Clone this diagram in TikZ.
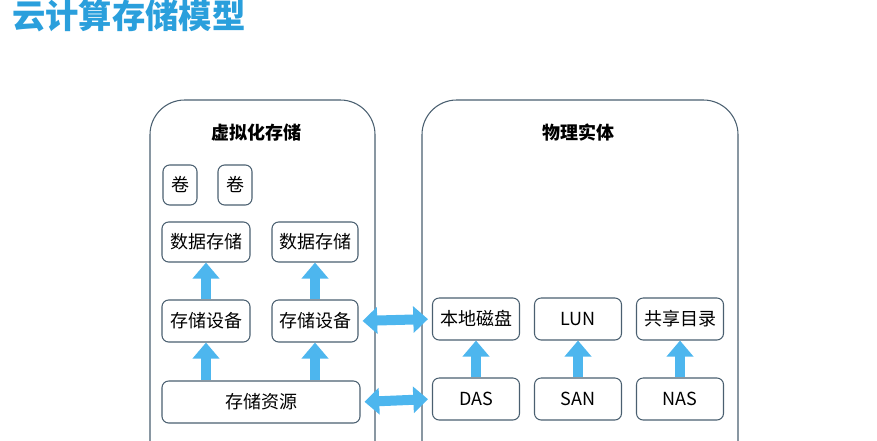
\documentclass[tikz,border=0pt]{standalone}
\usepackage{fontspec}
\setmainfont{Noto Sans CJK SC}
\usetikzlibrary{arrows.meta}
\definecolor{arrowblue}{HTML}{4DB6EE}
\definecolor{titleblue}{HTML}{2A9FDC}
\definecolor{edgegray}{HTML}{4A5F70}

\begin{document}
\begin{tikzpicture}[x=0.75pt, y=-0.75pt,
    box/.style={draw=edgegray, rounded corners=5pt, line width=0.8pt, font=\fontsize{13.5}{15}\selectfont},
    group/.style={draw=edgegray, rounded corners=26pt, line width=0.8pt},
    uparrow/.style={arrowblue, line width=7.5pt, -{Triangle[width=19.5pt, length=12pt]}},
    twoway/.style={arrowblue, line width=7.5pt, {Triangle[width=19.5pt, length=11pt]}-{Triangle[width=19.5pt, length=11pt]}}]
    \useasboundingbox (0,0) rectangle (877,440);

    % title
    \node[anchor=west, inner sep=0pt, text=titleblue, font=\fontsize{25}{27}\selectfont\bfseries] (title) at (12,16) {云计算存储模型};

    % containers
    \draw[group] (150,460) -- (150,100) -- (375,100) -- (375,460);
    \draw[group] (422,460) -- (422,100) -- (738,100) -- (738,460);
    \node[font=\fontsize{13.5}{15}\selectfont\bfseries] (virt) at (256,133) {虚拟化存储};
    \node[font=\fontsize{13.5}{15}\selectfont\bfseries] (phys) at (578,133) {物理实体};

    % virtual side
    \node[box, minimum width=34*0.75pt, minimum height=40*0.75pt] (vol1) at (180,185) {卷};
    \node[box, minimum width=34*0.75pt, minimum height=40*0.75pt] (vol2) at (235,185) {卷};
    \node[box, minimum width=88*0.75pt, minimum height=40*0.75pt] (ds1) at (206,242) {数据存储};
    \node[box, minimum width=86*0.75pt, minimum height=40*0.75pt] (ds2) at (315,242) {数据存储};
    \node[box, minimum width=88*0.75pt, minimum height=42*0.75pt] (dev1) at (206,321) {存储设备};
    \node[box, minimum width=86*0.75pt, minimum height=42*0.75pt] (dev2) at (315,321) {存储设备};
    \node[box, minimum width=198*0.75pt, minimum height=42*0.75pt] (res) at (261,402) {存储资源};

    % physical side
    \node[box, minimum width=87*0.75pt, minimum height=42*0.75pt] (disk) at (476,319) {本地磁盘};
    \node[box, minimum width=87*0.75pt, minimum height=42*0.75pt] (lun) at (578,319) {LUN};
    \node[box, minimum width=87*0.75pt, minimum height=42*0.75pt] (share) at (680,319) {共享目录};
    \node[box, minimum width=87*0.75pt, minimum height=42*0.75pt] (das) at (476,399) {DAS};
    \node[box, minimum width=87*0.75pt, minimum height=42*0.75pt] (san) at (578,399) {SAN};
    \node[box, minimum width=87*0.75pt, minimum height=42*0.75pt] (nas) at (680,399) {NAS};

    % arrows
    \draw[uparrow] (dev1.north) -- (ds1.south);
    \draw[uparrow] (dev2.north) -- (ds2.south);
    \draw[uparrow] (res.north -| dev1) -- (dev1.south);
    \draw[uparrow] (res.north -| dev2) -- (dev2.south);
    \draw[uparrow] (das.north) -- (disk.south);
    \draw[uparrow] (san.north) -- (lun.south);
    \draw[uparrow] (nas.north) -- (share.south);
    \draw[twoway, shorten <=3pt, shorten >=3pt] (dev2.east) -- (disk.west);
    \draw[twoway, shorten <=3pt, shorten >=3pt] (res.east) -- (das.west);
\end{tikzpicture}
\end{document}
